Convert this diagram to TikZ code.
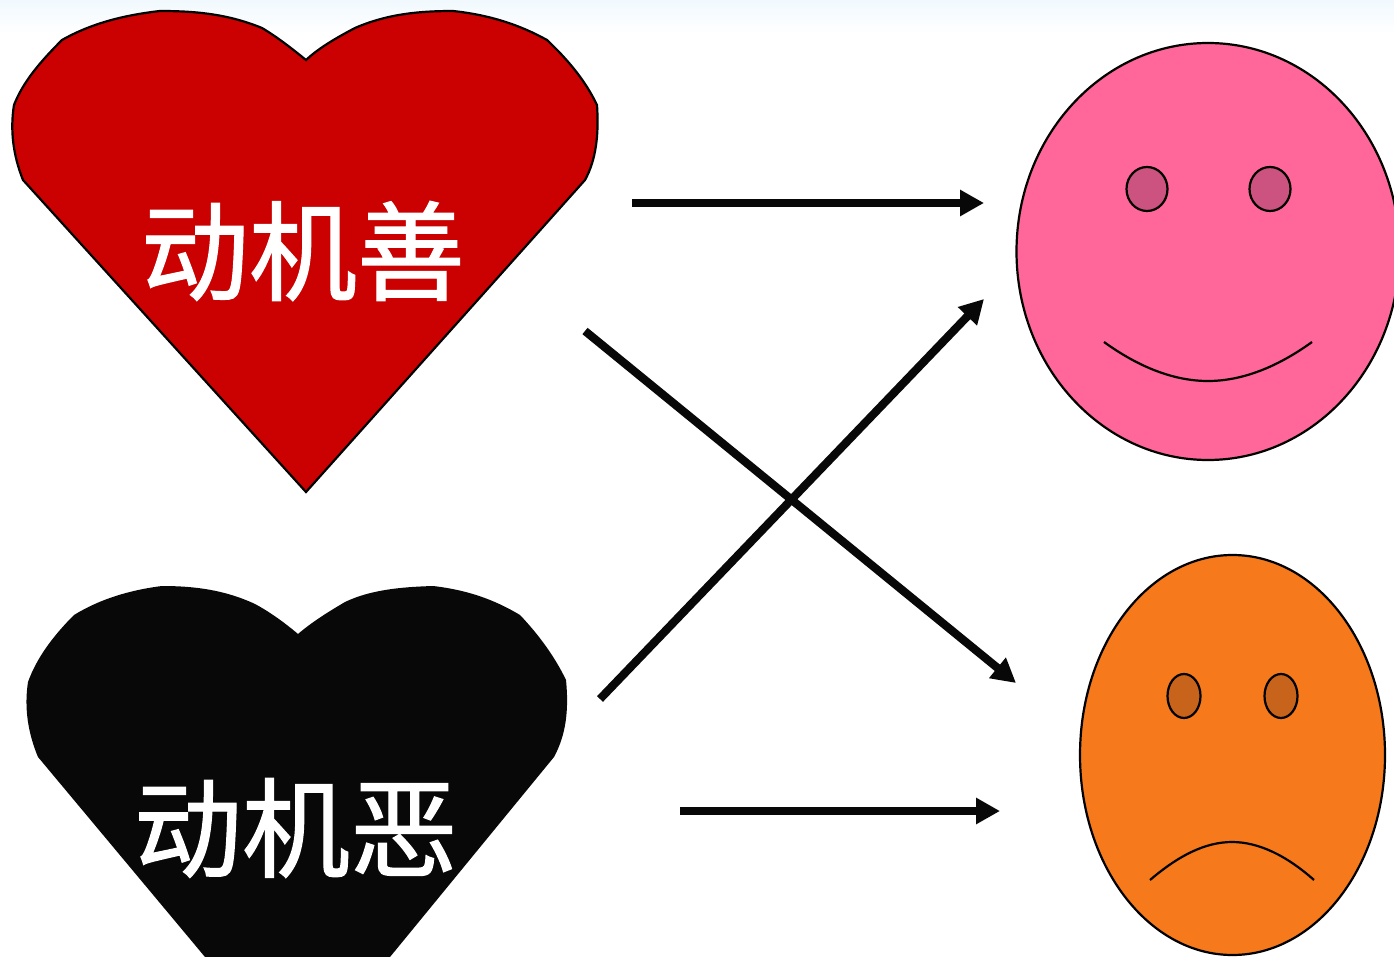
\documentclass[tikz,border=0pt]{standalone}
\usepackage{fontspec}
\newfontfamily\cjk[FakeBold=1.2]{Noto Sans CJK SC}
\usetikzlibrary{arrows.meta,shapes.geometric}
\definecolor{heartred}{HTML}{CB0000}
\definecolor{nearblack}{HTML}{080808}
\definecolor{facepink}{HTML}{FF6699}
\definecolor{eyepink}{HTML}{CC527F}
\definecolor{faceorange}{HTML}{F67A1C}
\definecolor{eyeorange}{HTML}{C8631C}
\definecolor{topblue}{HTML}{F1F9FE}
\tikzset{
  outline/.style={draw=black,line width=2.2pt},
  arrowline/.style={draw=nearblack,line width=8.2pt,-{Triangle[length=24pt,width=25pt]},shorten >=0pt},
  hearttext/.style={text=white,font=\cjk\fontsize{108}{112}\selectfont,inner sep=0pt},
  smile/.style={draw=black,line width=2.2pt}
}
\begin{document}
\begin{tikzpicture}[x=1pt,y=-1pt]
\useasboundingbox (0,0) rectangle (1394,957);
\clip (0,0) rectangle (1394,957);
\fill[white] (0,0) rectangle (1394,957);
\shade[top color=topblue,bottom color=white] (0,0) rectangle (1394,34);

% good heart
\path[outline,fill=heartred] (306,60)
  .. controls (290,47) and (277,37) .. (262,28)
  .. controls (230,15) and (200,11) .. (160,11)
  .. controls (125,15) and (92,23) .. (62,40)
  .. controls (40,62) and (23,82) .. (14,105)
  .. controls (10,130) and (13,155) .. (23,180)
  -- (306,492) -- (585,180)
  .. controls (596,160) and (599,135) .. (597,105)
  .. controls (585,80) and (568,60) .. (547,40)
  .. controls (520,25) and (490,15) .. (453,11)
  .. controls (415,11) and (385,15) .. (355,28)
  .. controls (338,37) and (320,47) .. (306,60) -- cycle;
\node[hearttext] (good) at (303,251) {动机善};

% bad heart
\path[fill=nearblack] (298,634)
  .. controls (285,623) and (270,612) .. (255,604)
  .. controls (225,590) and (195,586) .. (162,586)
  .. controls (130,590) and (100,599) .. (74,615)
  .. controls (54,635) and (37,657) .. (28,682)
  .. controls (24,708) and (28,733) .. (38,757)
  -- (205,957) -- (390,957) -- (554,757)
  .. controls (566,735) and (569,710) .. (566,680)
  .. controls (555,657) and (539,635) .. (520,615)
  .. controls (495,600) and (468,590) .. (433,586)
  .. controls (400,587) and (370,590) .. (345,602)
  .. controls (328,612) and (312,622) .. (298,634) -- cycle;
\node[hearttext] (bad) at (296,828) {动机恶};

% happy face
\node[ellipse,outline,fill=facepink,minimum width=383pt,minimum height=417pt,inner sep=0pt] (happy) at (1208,251.5) {};
\node[ellipse,outline,fill=eyepink,minimum width=41pt,minimum height=44pt,inner sep=0pt] (he1) at (1147,189) {};
\node[ellipse,outline,fill=eyepink,minimum width=41pt,minimum height=44pt,inner sep=0pt] (he2) at (1270,189) {};
\coordinate (hm1) at (1104,342);
\coordinate (hm2) at (1312,342);
\draw[smile] (hm1) .. controls (1140,368) and (1175,381) .. (1208,381) .. controls (1241,381) and (1276,368) .. (hm2);

% sad face
\node[ellipse,outline,fill=faceorange,minimum width=305pt,minimum height=400pt,inner sep=0pt] (sad) at (1232.5,755) {};
\node[ellipse,outline,fill=eyeorange,minimum width=33pt,minimum height=44pt,inner sep=0pt] (se1) at (1184,696) {};
\node[ellipse,outline,fill=eyeorange,minimum width=33pt,minimum height=44pt,inner sep=0pt] (se2) at (1281,696) {};
\coordinate (sm1) at (1150,880);
\coordinate (sm2) at (1314,880);
\draw[smile] (sm1) .. controls (1178,856) and (1205,842) .. (1232,842) .. controls (1259,842) and (1287,856) .. (sm2);

% arrows
\coordinate (a1s) at (632,203); \coordinate (a1e) at (984,203);
\coordinate (a2s) at (585,331); \coordinate (a2e) at (1016,683);
\coordinate (a3s) at (600,699); \coordinate (a3e) at (984,299);
\coordinate (a4s) at (680,811); \coordinate (a4e) at (1000,811);
\draw[arrowline] (a1s) -- (a1e);
\draw[arrowline] (a2s) -- (a2e);
\draw[arrowline] (a3s) -- (a3e);
\draw[arrowline] (a4s) -- (a4e);
\end{tikzpicture}
\end{document}
